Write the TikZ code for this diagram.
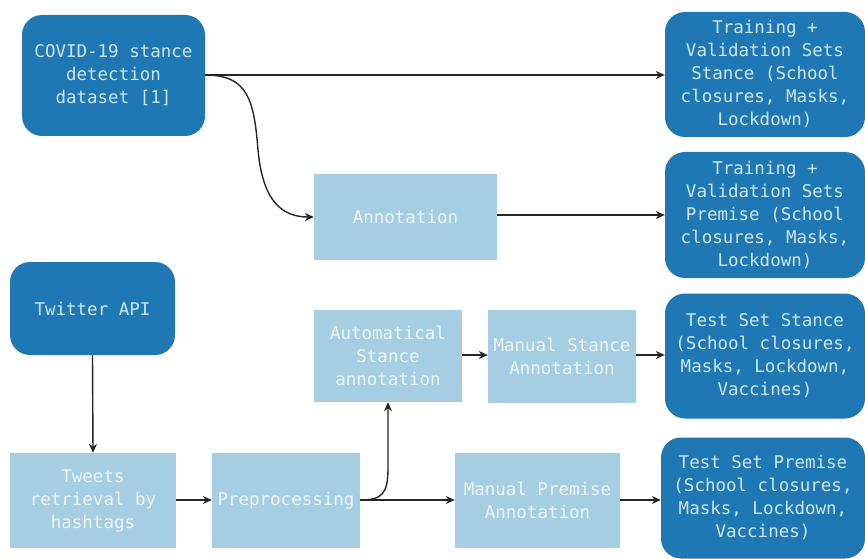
\documentclass[tikz,border=0pt]{standalone}
\usepackage{fontspec}
\setmonofont{DejaVu Sans Mono}
\usetikzlibrary{arrows.meta}
\definecolor{dkb}{HTML}{1F78B4}
\definecolor{ltb}{HTML}{A6CEE3}
\definecolor{dkt}{HTML}{CDE6F4}
\definecolor{ltt}{HTML}{EEF6FB}
\begin{document}
\begin{tikzpicture}[x=1pt,y=-1pt,
  base/.style={inner sep=0pt,align=center,font=\ttfamily\fontsize{17.5}{23}\selectfont},
  dark/.style={base,fill=dkb,text=dkt,rounded corners=20pt},
  light/.style={base,fill=ltb,text=ltt},
  arr/.style={-{Stealth[length=9pt,width=8pt]},line width=1.4pt,black!85}]
\useasboundingbox (0,0) rectangle (865,559);
\node[dark,minimum width=183pt,minimum height=121pt] (covid) at (113.5,75.5) {COVID-19 stance\\detection\\dataset [1]};
\node[dark,minimum width=200pt,minimum height=125pt] (trs) at (765,74.5) {Training +\\Validation Sets\\Stance (School\\closures, Masks,\\Lockdown)};
\node[dark,minimum width=200pt,minimum height=126pt] (trp) at (765,215) {Training +\\Validation Sets\\Premise (School\\closures, Masks,\\Lockdown)};
\node[light,minimum width=183pt,minimum height=86pt] (ann) at (405.5,217) {Annotation};
\node[dark,minimum width=165pt,minimum height=93pt] (tw) at (92.5,308.5) {Twitter API};
\node[light,minimum width=148pt,minimum height=92pt] (auto) at (388,356) {Automatical\\Stance\\annotation};
\node[light,minimum width=148pt,minimum height=93pt] (mst) at (562,356.5) {Manual Stance\\Annotation};
\node[dark,minimum width=200pt,minimum height=125pt] (tss) at (765,356) {Test Set Stance\\(School closures,\\Masks, Lockdown,\\Vaccines)};
\node[light,minimum width=166pt,minimum height=95pt] (ret) at (93,500.5) {Tweets\\retrieval by\\hashtags};
\node[light,minimum width=148pt,minimum height=95pt] (pre) at (286,500.5) {Preprocessing};
\node[light,minimum width=165pt,minimum height=95pt] (mpr) at (537.5,500.5) {Manual Premise\\Annotation};
\node[dark,minimum width=204pt,minimum height=121pt] (tsp) at (763,498) {Test Set Premise\\(School closures,\\Masks, Lockdown,\\Vaccines)};
\draw[arr] (covid.east |- 0,75) -- (trs.west |- 0,75);
\draw[arr] (covid.east |- 0,75) .. controls (248,75) and (254,100) .. (258,150) .. controls (263,205) and (285,217) .. (ann.west);
\draw[arr] (ann.east |- 0,215) -- (trp.west |- 0,215);
\draw[arr] (tw.south) -- (ret.north);
\draw[arr] (ret.east |- 0,500) -- (pre.west |- 0,500);
\draw[arr] (pre.east |- 0,500) -- (mpr.west |- 0,500);
\draw[arr] (pre.east |- 0,500) .. controls (382,500) and (388,494) .. (388,468) -- (auto.south);
\draw[arr] (auto.east |- 0,355) -- (mst.west |- 0,355);
\draw[arr] (mst.east |- 0,355) -- (tss.west |- 0,355);
\draw[arr] (mpr.east |- 0,500) -- (tsp.west |- 0,500);
\end{tikzpicture}
\end{document}
